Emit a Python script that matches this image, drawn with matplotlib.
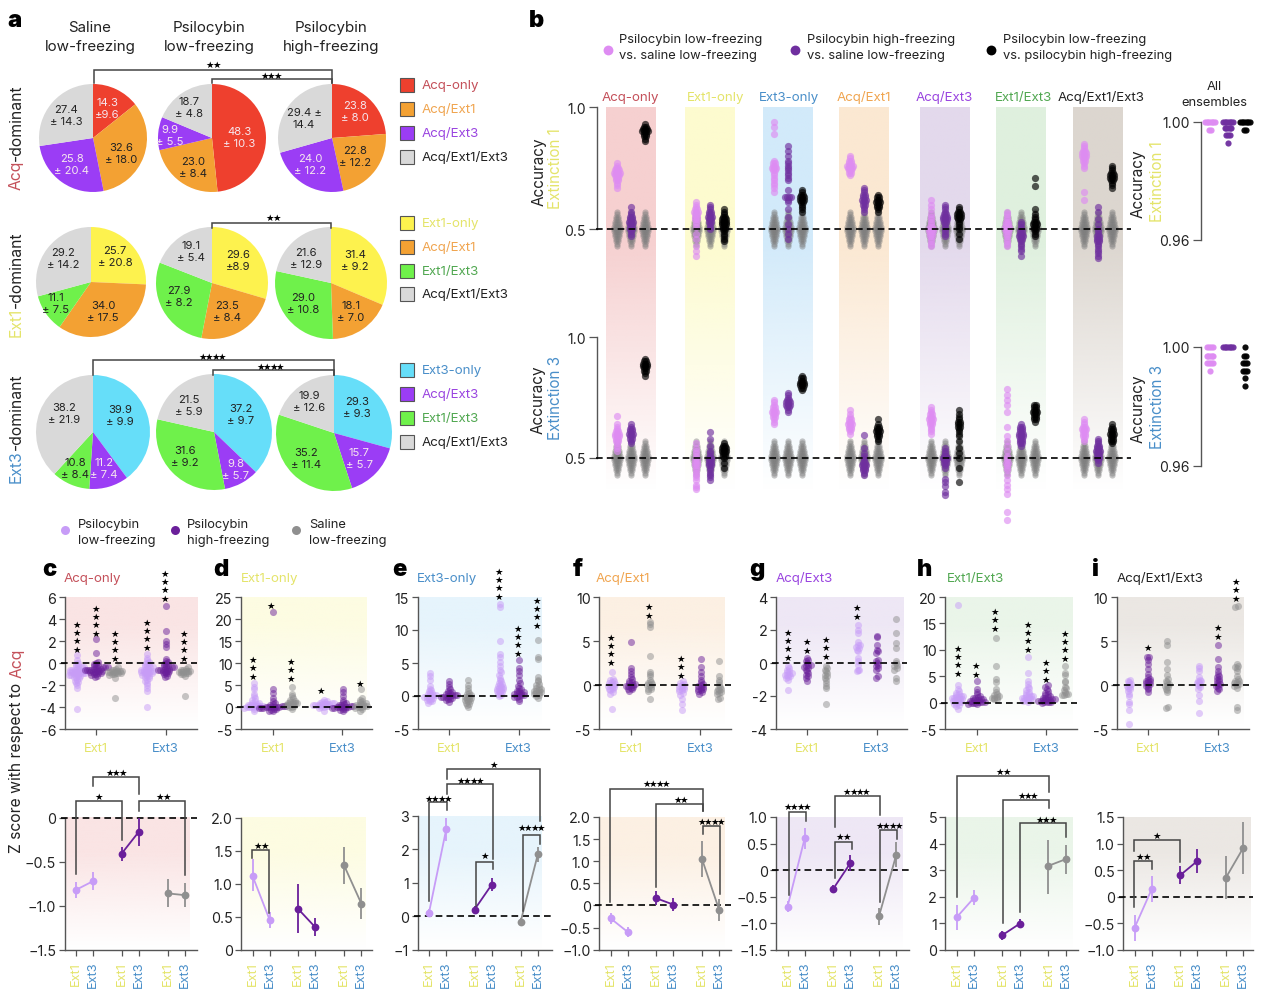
import numpy as np
import matplotlib
matplotlib.use('Agg')
import matplotlib.pyplot as plt
from matplotlib.colors import to_rgb
from matplotlib.patches import Rectangle

plt.rcParams['font.family'] = ['Inter', 'DejaVu Sans']
plt.rcParams['axes.unicode_minus'] = False

W, H = 1264, 1004

# colours
RED, ORANGE, PURPLE, LGRAY = '#ee402e', '#f3a133', '#9b3df5', '#d9d9d9'
YELLOW, GREEN, CYAN = '#fdf24e', '#6ff14b', '#66def9'
T_ACQ, T_EXT1, T_EXT3 = '#c4505a', '#e4e46a', '#4a8fc9'
T_AE1, T_AE3, T_E1E3 = '#f0a550', '#9a45e0', '#52a852'
T_ALL = '#222222'
C_LOW, C_HIGH, C_SAL = '#c79cf7', '#6a1f9a', '#8f8f8f'
B_LOW, B_HIGH, B_BLK = '#de8cf2', '#6f2f9f', '#000000'

# panel a
pie_row1 = [[14.3, 32.6, 25.8, 27.4], [48.3, 23.0, 9.9, 18.7], [23.8, 22.8, 24.0, 29.4]]
pie_row2 = [[25.7, 34.0, 11.1, 29.2], [29.6, 23.5, 27.9, 19.1], [31.4, 18.1, 29.0, 21.6]]
pie_row3 = [[39.9, 11.2, 10.8, 38.2], [37.2, 9.8, 31.6, 21.5], [29.3, 15.7, 35.2, 19.9]]
lab_row1 = [['14.3\n±9.6', '32.6\n± 18.0', '25.8\n± 20.4', '27.4\n± 14.3'],
            ['48.3\n± 10.3', '23.0\n± 8.4', '9.9\n± 5.5', '18.7\n± 4.8'],
            ['23.8\n± 8.0', '22.8\n± 12.2', '24.0\n± 12.2', '29.4 ±\n14.4']]
lab_row2 = [['25.7\n± 20.8', '34.0\n± 17.5', '11.1\n± 7.5', '29.2\n± 14.2'],
            ['29.6\n±8.9', '23.5\n± 8.4', '27.9\n± 8.2', '19.1\n± 5.4'],
            ['31.4\n± 9.2', '18.1\n± 7.0', '29.0\n± 10.8', '21.6\n± 12.9']]
lab_row3 = [['39.9\n± 9.9', '11.2\n± 7.4', '10.8\n± 8.4', '38.2\n± 21.9'],
            ['37.2\n± 9.7', '9.8\n± 5.7', '31.6\n± 9.2', '21.5\n± 5.9'],
            ['29.3\n± 9.3', '15.7\n± 5.7', '35.2\n± 11.4', '19.9\n± 12.6']]
legend_a1 = ['Acq-only', 'Acq/Ext1', 'Acq/Ext3', 'Acq/Ext1/Ext3']
legend_a2 = ['Ext1-only', 'Acq/Ext1', 'Ext1/Ext3', 'Acq/Ext1/Ext3']
legend_a3 = ['Ext3-only', 'Acq/Ext3', 'Ext1/Ext3', 'Acq/Ext1/Ext3']

# panel b, one cloud per ensemble type
ensembles = ['Acq-only', 'Ext1-only', 'Ext3-only', 'Acq/Ext1', 'Acq/Ext3', 'Ext1/Ext3', 'Acq/Ext1/Ext3']
shuffle_cloud = [.43, .44, .45, .45, .46, .46, .47, .47, .47, .48, .48, .48, .49, .49, .49, .49, .50, .50, .50, .50,
                 .51, .51, .51, .51, .52, .52, .52, .53, .53, .53, .54, .54, .55, .55, .56, .57]
e1_low = [
    [.67, .68, .69, .70, .70, .71, .71, .72, .72, .72, .73, .73, .73, .73, .74, .74, .74, .75, .75, .76, .77],
    [.39, .41, .43, .46, .48, .51, .52, .53, .54, .54, .55, .55, .56, .56, .57, .57, .57, .58, .58, .59, .60, .61],
    [.94, .92, .89, .65, .67, .68, .69, .70, .71, .72, .73, .74, .74, .75, .75, .75, .76, .76, .77, .77, .78],
    [.72, .73, .73, .74, .74, .75, .75, .75, .76, .76, .76, .76, .77, .77, .78, .78, .79, .80],
    [.43, .44, .45, .46, .47, .47, .48, .48, .49, .49, .49, .50, .50, .50, .51, .51, .52, .53, .54, .55, .56, .58, .60, .62],
    [.43, .44, .45, .46, .47, .48, .48, .49, .49, .50, .50, .50, .51, .51, .51, .52, .52, .53, .53, .54, .55, .56, .57],
    [.62, .65, .75, .76, .77, .78, .78, .79, .79, .80, .80, .80, .81, .81, .81, .82, .82, .83, .84, .85],
]
e1_high = [
    [.47, .48, .49, .50, .50, .51, .51, .52, .52, .53, .53, .53, .54, .54, .55, .55, .56, .57, .59],
    [.50, .51, .52, .53, .53, .54, .54, .55, .55, .55, .56, .56, .57, .57, .58, .59, .60],
    [.46, .48, .50, .52, .55, .58, .61, .62, .63, .63, .63, .63, .66, .70, .71, .72, .73, .74, .75, .76, .77, .78, .80, .82, .84],
    [.57, .58, .59, .60, .60, .61, .61, .62, .62, .62, .63, .63, .64, .64, .65, .66, .67],
    [.47, .48, .49, .50, .51, .52, .53, .53, .54, .54, .54, .55, .55, .55, .56, .56, .57, .58, .59, .60],
    [.39, .41, .42, .43, .44, .45, .46, .46, .47, .47, .47, .48, .48, .49, .49, .50, .51, .52, .53],
    [.38, .39, .40, .41, .42, .43, .44, .45, .45, .46, .46, .47, .47, .48, .49, .50, .52, .54, .57, .59],
]
e1_black = [
    [.86, .87, .88, .88, .89, .89, .90, .90, .90, .90, .91, .91, .91, .92, .92, .93],
    [.45, .46, .47, .48, .49, .50, .50, .51, .51, .52, .52, .52, .53, .53, .53, .54, .54, .54, .55, .55, .56, .57, .58],
    [.57, .58, .59, .60, .61, .61, .62, .62, .62, .63, .63, .63, .64, .64, .65, .66],
    [.57, .58, .59, .59, .60, .60, .61, .61, .61, .62, .62, .63, .63, .64],
    [.46, .48, .50, .51, .52, .53, .54, .54, .55, .55, .55, .56, .56, .56, .57, .57, .58, .59],
    [.47, .48, .49, .50, .50, .51, .51, .52, .52, .52, .53, .53, .54, .55, .56, .58, .675, .71],
    [.67, .68, .69, .70, .70, .71, .71, .71, .72, .72, .72, .73, .73, .74, .75, .76],
]
e3_low = [
    [.53, .54, .55, .56, .57, .57, .58, .58, .59, .59, .59, .60, .60, .60, .61, .61, .62, .63, .64, .675],
    [.37, .38, .39, .41, .42, .43, .44, .45, .46, .47, .47, .48, .48, .49, .49, .50, .51, .52, .53, .54, .56],
    [.64, .65, .66, .67, .67, .68, .68, .69, .69, .69, .70, .70, .71, .71, .72, .73, .74],
    [.60, .61, .62, .62, .63, .63, .64, .64, .64, .65, .65, .66, .66, .67, .68, .70],
    [.60, .61, .62, .63, .64, .64, .65, .65, .66, .66, .66, .67, .67, .68, .68, .69, .70, .71],
    [.245, .278, .35, .37, .39, .41, .43, .45, .46, .47, .48, .48, .49, .50, .51, .53, .55, .57, .59, .627, .69, .72, .74, .76, .785],
    [.57, .58, .59, .59, .60, .60, .61, .61, .62, .62, .62, .63, .63, .64, .65, .66],
]
e3_high = [
    [.56, .57, .58, .58, .59, .59, .60, .60, .60, .61, .61, .62, .62, .63, .64],
    [.41, .42, .43, .44, .45, .46, .47, .47, .48, .48, .49, .49, .50, .50, .51, .52, .53, .55, .58, .607],
    [.69, .70, .71, .71, .72, .72, .72, .73, .73, .73, .74, .74, .75, .76, .77],
    [.43, .44, .45, .45, .46, .46, .47, .47, .47, .48, .48, .49, .50, .51, .52, .54, .593],
    [.347, .36, .385, .40, .415, .46, .47, .48, .48, .49, .49, .50, .50, .50, .51, .51, .52, .53, .54],
    [.55, .56, .56, .57, .57, .58, .58, .59, .59, .59, .60, .60, .60, .61, .61, .62, .62, .63, .63, .64],
    [.48, .49, .50, .50, .51, .51, .52, .52, .53, .53, .53, .54, .54, .55, .55, .56, .57, .58],
]
e3_black = [
    [.84, .85, .86, .86, .87, .87, .88, .88, .88, .89, .89, .89, .90, .90, .91],
    [.46, .48, .50, .51, .51, .52, .52, .53, .53, .53, .54, .54, .54, .55, .55, .56],
    [.78, .79, .79, .80, .80, .80, .81, .81, .81, .82, .82, .83, .83, .84],
    [.57, .58, .59, .59, .60, .60, .61, .61, .61, .62, .62, .63, .63, .64, .66],
    [.40, .46, .50, .52, .54, .57, .59, .60, .61, .62, .63, .63, .64, .64, .65, .65, .66, .67, .68, .70],
    [.65, .66, .66, .67, .67, .68, .68, .69, .69, .69, .70, .70, .71, .71, .72, .72],
    [.56, .57, .57, .58, .58, .59, .59, .60, .60, .60, .61, .61, .62, .62, .63, .64],
]
# all ensembles, accuracy is quantised
all_e1_low = [1.0, 1.0, 1.0, 1.0, 1.0, 1.0, 1.0, 0.9974, 0.9974]
all_e1_high = [1.0, 1.0, 1.0, 1.0, 1.0, 1.0, 1.0, 0.998, 0.998, 0.998, 0.998, 0.998, 0.9955, 0.9955, 0.9955, 0.993]
all_e1_black = [1.0, 1.0, 1.0, 1.0, 1.0, 1.0, 1.0, 0.9974, 0.9974]
all_e3_low = [1.0, 1.0, 1.0, 1.0, 0.997, 0.997, 0.997, 0.997, 0.997, 0.9945, 0.9945, 0.9945, 0.9945, 0.992]
all_e3_high = [1.0, 1.0, 1.0, 1.0, 1.0, 1.0, 1.0]
all_e3_black = [1.0, 0.997, 0.997, 0.9945, 0.9945, 0.9945, 0.992, 0.992, 0.992, 0.9895, 0.987]

# panels c-i, top row: low, high, saline at Ext1 then at Ext3
top_c = [
    [-4.2, -2.3, -2.0, -1.8, -1.7, -1.6, -1.5, -1.4, -1.3, -1.3, -1.2, -1.2, -1.1, -1.1, -1.0, -1.0, -1.0, -0.9, -0.9, -0.9, -0.8, -0.8, -0.8, -0.8, -0.7, -0.7, -0.7, -0.6, -0.6, -0.6, -0.5, -0.5, -0.4, -0.4, -0.3, -0.2, -0.1, 0.0, 0.3, 0.7],
    [-1.3, -1.2, -1.1, -1.0, -1.0, -0.9, -0.9, -0.8, -0.8, -0.8, -0.7, -0.7, -0.7, -0.6, -0.6, -0.6, -0.6, -0.5, -0.5, -0.5, -0.5, -0.4, -0.4, -0.4, -0.3, -0.3, -0.2, -0.1, 0.0, 0.1, 0.9, 2.2],
    [-3.2, -1.4, -1.1, -1.0, -1.0, -0.9, -0.9, -0.9, -0.8, -0.8, -0.8, -0.8, -0.7, -0.7, -0.7, -0.6, -0.6, -0.5, -0.4],
    [-4.0, -2.5, -2.3, -2.0, -1.8, -1.6, -1.5, -1.4, -1.3, -1.2, -1.2, -1.1, -1.0, -1.0, -0.9, -0.9, -0.8, -0.8, -0.8, -0.7, -0.7, -0.7, -0.6, -0.6, -0.5, -0.5, -0.4, -0.4, -0.3, -0.3, -0.2, -0.1, 0, 0.1, 0.3, 0.5, 0.8],
    [-1.3, -1.2, -1.0, -0.9, -0.9, -0.8, -0.8, -0.7, -0.7, -0.6, -0.6, -0.6, -0.5, -0.5, -0.5, -0.4, -0.4, -0.3, -0.3, -0.2, -0.1, 0, 0.1, 0.2, 0.4, 1.5, 1.7, 2.0, 2.9, 5.2],
    [-3.0, -1.2, -1.0, -1.0, -0.9, -0.9, -0.8, -0.8, -0.8, -0.7, -0.7, -0.7, -0.6, -0.6, -0.5, -0.4],
]
top_d = [
    [-1.0, -0.5, -0.3, -0.1, 0, 0.1, 0.1, 0.2, 0.2, 0.3, 0.3, 0.4, 0.4, 0.5, 0.5, 0.6, 0.8, 1.0, 1.3, 1.7, 2.1, 2.6, 3.0, 4.0, 4.6, 5.4],
    [-1.0, -0.8, -0.6, -0.5, -0.4, -0.3, -0.2, -0.2, -0.1, -0.1, 0, 0, 0, 0.1, 0.1, 0.2, 0.2, 0.3, 0.4, 0.6, 0.9, 1.3, 2.0, 3.2, 4.0, 21.7],
    [-0.4, 0, 0.1, 0.3, 0.4, 0.5, 0.6, 0.7, 0.8, 0.9, 1.0, 1.1, 1.2, 1.4, 1.6, 2.0, 2.5, 3.0, 4.5],
    [-0.8, -0.3, 0, 0.1, 0.2, 0.3, 0.4, 0.4, 0.5, 0.5, 0.6, 0.6, 0.7, 0.7, 0.8, 0.9, 1.0, 1.1, 1.2, 1.4, 1.7],
    [-1.0, -0.7, -0.5, -0.4, -0.3, -0.2, -0.1, -0.1, 0, 0, 0.1, 0.1, 0.2, 0.3, 0.4, 0.5, 0.7, 0.9, 1.2, 1.6, 2.5, 3.3, 4.0],
    [-0.8, -0.4, -0.2, 0, 0, 0.1, 0.2, 0.3, 0.4, 0.5, 0.6, 0.7, 0.9, 1.1, 1.3, 1.6, 2.0, 4.0],
]
top_e = [
    [-1.0, -0.8, -0.7, -0.6, -0.5, -0.4, -0.3, -0.2, -0.1, 0, 0, 0.1, 0.2, 0.3, 0.4, 0.5, 0.7, 0.9, 1.1, 1.5, 2.4, 3.0, 3.5],
    [-0.9, -0.6, -0.5, -0.4, -0.3, -0.2, -0.1, -0.1, 0, 0, 0.1, 0.1, 0.2, 0.3, 0.4, 0.5, 0.6, 0.8, 1.0, 1.4, 1.8, 2.2],
    [-1.6, -1.4, -1.2, -1.0, -0.8, -0.7, -0.6, -0.5, -0.4, -0.3, -0.2, -0.1, 0, 0.1, 0.3, 0.5, 0.8, 1.2, 1.6, 2.4],
    [0, 0.2, 0.3, 0.5, 0.6, 0.7, 0.8, 0.9, 1.0, 1.1, 1.2, 1.3, 1.4, 1.5, 1.6, 1.8, 2.0, 2.2, 2.5, 2.8, 3.2, 3.6, 4.0, 4.5, 5.2, 5.9, 6.4, 8.3, 13.5, 14],
    [-0.8, -0.4, -0.2, -0.1, 0, 0.1, 0.2, 0.3, 0.4, 0.5, 0.5, 0.6, 0.7, 0.8, 1.0, 1.2, 1.5, 1.9, 2.5, 3.2, 3.8, 4.3, 5.4],
    [-0.3, 0, 0.2, 0.3, 0.4, 0.5, 0.6, 0.7, 0.8, 0.9, 1.0, 1.2, 1.4, 1.6, 1.8, 2.2, 2.5, 2.9, 5.6, 5.9, 8.5],
]
top_f = [
    [-2.7, -1.0, -0.8, -0.6, -0.5, -0.4, -0.3, -0.2, -0.1, 0, 0, 0.1, 0.2, 0.3, 0.4, 0.6, 0.7, 1.5],
    [-0.7, -0.5, -0.4, -0.3, -0.2, -0.1, -0.1, 0, 0, 0.1, 0.2, 0.3, 0.5, 0.7, 0.9, 1.2, 1.6, 1.9, 4.9],
    [-1.6, -0.7, -0.5, -0.4, -0.2, 0, 0, 0.1, 0.2, 0.3, 0.6, 1.0, 1.3, 1.5, 3.3, 6.6, 6.9, 7.2],
    [-2.8, -2.2, -1.6, -1.1, -0.9, -0.7, -0.6, -0.5, -0.4, -0.3, -0.2, -0.1, 0, 0.1, 0.2, 0.4],
    [-1.0, -0.8, -0.7, -0.6, -0.5, -0.4, -0.3, -0.2, -0.1, 0, 0.1, 0.3, 0.6, 1.0, 1.5, 2.0, 2.9],
    [-1.6, -1.5, -1.0, -0.9, -0.8, -0.7, -0.6, -0.5, -0.4, -0.2, 0, 0.3, 0.6, 1.0, 2.7],
]
top_g = [
    [-1.65, -1.0, -0.9, -0.85, -0.8, -0.75, -0.7, -0.65, -0.6, -0.55, -0.5, -0.4, -0.3, -0.2],
    [-1.1, -0.9, -0.8, -0.7, -0.6, -0.5, -0.4, -0.3, -0.25, -0.2, -0.15, -0.1, 0, 0.1, 0.2, 0.3],
    [-2.5, -1.5, -1.4, -1.2, -1.0, -0.9, -0.8, -0.7, -0.6, -0.5, -0.4, -0.3, -0.2],
    [-0.5, -0.45, -0.4, -0.1, 0.1, 0.3, 0.7, 0.8, 0.9, 1.0, 1.1, 1.1, 1.3, 1.8, 2.0, 2.3],
    [-0.9, -0.8, -0.4, -0.3, -0.2, -0.1, 0, 0.1, 0.2, 0.6, 0.7, 0.8, 1.1, 1.6, 1.65],
    [-1.1, -0.9, -0.4, -0.3, -0.2, -0.1, 0, 0.1, 0.9, 1.2, 1.8, 2.65],
]
top_h = [
    [-1.2, -0.7, -0.4, -0.2, 0, 0.1, 0.2, 0.3, 0.4, 0.5, 0.6, 0.7, 0.8, 0.9, 1.0, 1.1, 1.2, 1.3, 1.5, 1.7, 1.9, 2.2, 2.6, 3.3, 18.4],
    [-0.3, -0.2, -0.1, 0, 0, 0.1, 0.1, 0.2, 0.2, 0.3, 0.3, 0.4, 0.4, 0.5, 0.6, 0.7, 0.8, 0.9, 1.1, 1.3, 1.6, 2.0, 2.5, 4.0],
    [0.6, 0.7, 0.8, 0.9, 1.0, 1.2, 1.4, 1.7, 2.0, 2.5, 3.9, 4.5, 6.9, 12.2],
    [0.2, 0.3, 0.4, 0.5, 0.6, 0.7, 0.8, 0.9, 1.0, 1.1, 1.2, 1.3, 1.5, 1.7, 1.9, 2.1, 2.4, 2.7, 3.0, 3.5, 4.0, 5.6, 8.7],
    [0, 0.1, 0.1, 0.2, 0.2, 0.3, 0.3, 0.4, 0.4, 0.5, 0.5, 0.6, 0.7, 0.8, 0.9, 1.0, 1.2, 1.4, 1.6, 1.9, 2.2, 2.6, 3.0, 3.4],
    [1.4, 1.5, 1.6, 1.7, 2.0, 2.4, 2.8, 3.0, 3.9, 4.0, 5.3, 5.6, 6.9],
]
top_i = [
    [-4.4, -2.8, -2.2, -1.9, -1.2, -1.0, -0.7, -0.5, -0.3, -0.2, -0.1, 0, 0.1, 0.3, 0.5, 0.6],
    [-0.8, -0.5, -0.3, -0.1, 0, 0.1, 0.2, 0.3, 0.4, 0.5, 0.6, 0.7, 0.9, 1.2, 1.8, 2.4, 2.8, 3.2, 3.2],
    [-2.6, -2.5, -0.8, -0.6, -0.4, -0.2, -0.1, 0, 0.1, 0.3, 0.5, 0.7, 1.1, 1.8, 2.6, 4.6, 5.0],
    [-3.2, -1.8, -1.1, -0.4, -0.2, 0, 0.1, 0.2, 0.3, 0.4, 0.5, 0.6, 0.9, 1.6, 1.9, 2.2],
    [-0.7, -0.5, -0.3, -0.1, 0, 0.1, 0.2, 0.4, 0.6, 0.7, 0.9, 1.0, 1.2, 1.6, 2.1, 2.9, 4.6],
    [-2.8, -2.5, -0.3, -0.1, 0, 0.1, 0.2, 0.3, 0.4, 0.5, 0.7, 1.0, 1.6, 1.9, 2.1, 2.2, 2.4, 8.9, 9.0],
]

# panels c-i, bottom row: mean, lower, upper for low/high/saline, Ext1 then Ext3
mean_c = [-0.82, -0.72, -0.41, -0.16, -0.86, -0.88]
low_c = [-0.91, -0.82, -0.49, -0.32, -1.02, -1.02]
up_c = [-0.73, -0.62, -0.33, 0.0, -0.70, -0.74]
mean_d = [1.12, 0.45, 0.62, 0.34, 1.28, 0.70]
low_d = [0.89, 0.33, 0.26, 0.21, 1.0, 0.47]
up_d = [1.37, 0.57, 0.99, 0.48, 1.56, 0.93]
mean_e = [0.11, 2.6, 0.2, 0.95, -0.18, 1.85]
low_e = [0.01, 2.25, 0.1, 0.75, -0.30, 1.63]
up_e = [0.21, 2.95, 0.3, 1.15, -0.06, 2.07]
mean_f = [-0.29, -0.60, 0.165, 0.02, 1.05, -0.11]
low_f = [-0.41, -0.72, -0.0, -0.13, 0.64, -0.36]
up_f = [-0.17, -0.48, 0.33, 0.17, 1.46, 0.14]
mean_g = [-0.69, 0.60, -0.36, 0.13, -0.87, 0.29]
low_g = [-0.79, 0.40, -0.44, -0.02, -1.03, 0.05]
up_g = [-0.59, 0.80, -0.28, 0.28, -0.71, 0.53]
mean_h = [1.23, 1.96, 0.55, 0.98, 3.16, 3.41]
low_h = [0.75, 1.7, 0.37, 0.8, 2.1, 2.85]
up_h = [1.7, 2.25, 0.7, 1.15, 4.15, 3.95]
mean_i = [-0.59, 0.14, 0.40, 0.67, 0.36, 0.92]
low_i = [-0.83, -0.10, 0.23, 0.44, -0.05, 0.43]
up_i = [-0.35, 0.38, 0.57, 0.89, 0.76, 1.40]

fig = plt.figure(figsize=(W / 100, H / 100), dpi=100, facecolor='white')


def ax_px(l, t, r, b, z=5):
    ax = fig.add_axes([l / W, 1 - b / H, (r - l) / W, (b - t) / H], zorder=z)
    ax.patch.set_alpha(0)
    return ax


bg = ax_px(0, 0, W, H, z=0)
ov = ax_px(0, 0, W, H, z=20)
for a in (bg, ov):
    a.axis('off')


def shade(l, t, r, b, color, hold=0.3):
    # colour band that fades to white
    n = 200
    img = np.ones((n, 1, 4))
    img[:, 0, :3] = to_rgb(color)
    f = np.linspace(0, 1, n)
    img[:, 0, 3] = np.clip((1 - f) / (1 - hold), 0, 1)
    bg.imshow(img, extent=(l, r, b, t), aspect='auto', zorder=1, interpolation='bilinear')


def txt(x, y, s, size=10, color='#222222', **kw):
    kw.setdefault('ha', 'center')
    kw.setdefault('va', 'center')
    return ov.text(x, y, s, fontsize=size, color=color, **kw)


def star_h(x, y, n, gap=6.3):
    for i in range(n):
        ov.text(x + (i - (n - 1) / 2) * gap, y, '★', fontsize=6.8, family='DejaVu Sans',
                color='black', ha='center', va='center')


def star_v(x, y_low, n, gap=8.2):
    for i in range(n):
        ov.text(x, y_low - i * gap, '★', fontsize=6.8, family='DejaVu Sans',
                color='black', ha='center', va='center')


def bracket(x1, yb1, x2, yb2, yt, color='#444444', lw=1.1):
    ov.plot([x1, x1, x2, x2], [yb1, yt, yt, yb2], color=color, lw=lw, solid_joinstyle='miter')


def rot_two(x, y_bottom, first, c1, second, c2, size):
    # two coloured strings reading upwards
    r = fig.canvas.get_renderer()
    t1 = txt(x, y_bottom, first, size, c1, rotation=90, va='bottom')
    h = t1.get_window_extent(r).height
    txt(x, y_bottom - h, second, size, c2, rotation=90, va='bottom')


def swarm(vals, step, dx):
    vals = np.asarray(vals, dtype=float)
    bins = np.round(vals / step)
    off = np.zeros(len(vals))
    for b in np.unique(bins):
        idx = np.where(bins == b)[0]
        off[idx] = (np.arange(len(idx)) - (len(idx) - 1) / 2) * dx
    return off


def style_axis(ax, size=10.3):
    ax.spines[['top', 'right']].set_visible(False)
    ax.spines[['left', 'bottom']].set_color('#555555')
    ax.spines[['left', 'bottom']].set_linewidth(1.0)
    ax.tick_params(length=4, width=0.9, color='#555555', labelsize=size, labelcolor='#222222', pad=2)


# ---------- panel a ----------
txt(14, 21, 'a', 17, 'black', fontweight='black')
for x, a1, a2 in [(90, 'Saline', 'low-freezing'), (209, 'Psilocybin', 'low-freezing'), (331, 'Psilocybin', 'high-freezing')]:
    txt(x, 28, a1, 10.9)
    txt(x, 47, a2, 10.9)

pie_sets = [
    (pie_row1, lab_row1, [RED, ORANGE, PURPLE, LGRAY], [(93, 139, 54), (212, 139, 54), (332, 139, 54)],
     [[(107, 109), (121, 154), (72, 165), (66, 116)], [(239, 138), (193, 168), (170, 136), (189, 108)], [(355, 112), (355, 157), (310, 165), (304, 119)]],
     [0, 2]),
    (pie_row2, lab_row2, [YELLOW, ORANGE, GREEN, LGRAY], [(91, 283, 55), (212, 284, 56), (331, 284, 56)],
     [[(115, 257), (103, 312), (56, 304), (63, 259)], [(238, 261), (227, 312), (179, 297), (191, 252)], [(355, 261), (351, 312), (303, 304), (306, 259)]],
     []),
    (pie_row3, lab_row3, [CYAN, PURPLE, GREEN, LGRAY], [(93, 433, 57), (214, 433, 58), (334, 434, 58)],
     [[(120, 416), (104, 469), (75, 469), (64, 414)], [(241, 415), (236, 470), (185, 457), (189, 406)], [(357, 408), (359, 459), (306, 459), (309, 402)]],
     [1]),
]
for vals, labs, cols, centres, lab_xy, light in pie_sets:
    for v, l, (cx, cy, rad), xy in zip(vals, labs, centres, lab_xy):
        p = ax_px(cx - rad, cy - rad, cx + rad, cy + rad)
        p.pie(v, colors=cols, startangle=90, counterclock=False, radius=1)
        p.set_xlim(-1, 1)
        p.set_ylim(-1, 1)
        for i, s in enumerate(l):
            c = '#f6e6ee' if i in light else '#222222'
            txt(xy[i][0], xy[i][1], s, 8.1, c, linespacing=1.2)

leg_rows = [
    (legend_a1, [RED, ORANGE, PURPLE, LGRAY], [T_ACQ, T_AE1, T_AE3, T_ALL], [86, 110, 134, 158]),
    (legend_a2, [YELLOW, ORANGE, GREEN, LGRAY], [T_EXT1, T_AE1, T_E1E3, T_ALL], [224, 248, 272, 295]),
    (legend_a3, [CYAN, PURPLE, GREEN, LGRAY], [T_EXT3, T_AE3, T_E1E3, T_ALL], [371, 395, 419, 443]),
]
for names, fills, tcols, ys in leg_rows:
    for n, f, c, y in zip(names, fills, tcols, ys):
        ov.add_patch(Rectangle((400, y - 7), 14, 14, fc=f, ec='#555555', lw=0.8))
        txt(422, y, n, 9.6, c, ha='left')

rot_two(16, 190, 'Acq', T_ACQ, '-dominant', '#222222', 11.3)
rot_two(16, 337, 'Ext1', T_EXT1, '-dominant', '#222222', 11.3)
rot_two(16, 483, 'Ext3', T_EXT3, '-dominant', '#222222', 11.3)

bracket(94, 84, 332, 84, 71)
bracket(212, 84, 332, 84, 80)
star_h(213, 65, 2)
star_h(271, 76, 3)
bracket(212, 229, 331, 229, 224)
star_h(273, 218, 2)
bracket(93, 376, 334, 376, 361)
bracket(213, 376, 334, 376, 371)
star_h(212, 357, 4)
star_h(270, 367, 4)

for mx, tx, l1, l2, mc in [(65, 78, 'Psilocybin', 'low-freezing', C_LOW), (175, 187, 'Psilocybin', 'high-freezing', C_HIGH), (296, 309, 'Saline', 'low-freezing', C_SAL)]:
    ov.scatter([mx], [531], s=42, color=mc, lw=0)
    txt(tx, 525, l1, 9.3, ha='left')
    txt(tx, 541, l2, 9.3, ha='left')

# ---------- panel b ----------
txt(536, 21, 'b', 17, 'black', fontweight='black')
for mx, tx, l1, l2, mc in [(608, 619, 'Psilocybin low-freezing', 'vs. saline low-freezing', B_LOW),
                           (795, 807, 'Psilocybin high-freezing', 'vs. saline low-freezing', B_HIGH),
                           (991, 1003, 'Psilocybin low-freezing', 'vs. psilocybin high-freezing', B_BLK)]:
    ov.scatter([mx], [51], s=50, color=mc, lw=0)
    txt(tx, 40, l1, 9.3, ha='left')
    txt(tx, 56, l2, 9.3, ha='left')

band_x = [631, 710, 788, 864, 945, 1021, 1098]
band_col = ['#f6d0d0', '#fdfbcf', '#d2eafa', '#fbe8d2', '#e3d9ec', '#dff0de', '#dcd6cf']
title_x = [630, 716, 789, 864, 944, 1023, 1101]
title_col = [T_ACQ, T_EXT1, T_EXT3, T_AE1, T_AE3, T_E1E3, T_ALL]
for cx, c, tx, tc, name in zip(band_x, band_col, title_x, title_col, ensembles):
    shade(cx - 25, 108, cx + 25, 492, c, hold=0.35)
    txt(tx, 98, name, 9.6, tc)

for (top, bot, low, high, blk) in [(108, 230, e1_low, e1_high, e1_black), (338, 459, e3_low, e3_high, e3_black)]:
    ax = ax_px(597, top, 1135, bot, z=6)
    ax.set_xlim(597, 1135)
    ax.set_ylim(0.5, 1.0)
    style_axis(ax, 10)
    ax.spines['bottom'].set_visible(False)
    ax.set_xticks([])
    ax.set_yticks([0.5, 1.0])
    ax.set_yticklabels(['0.5', '1.0'])
    ax.tick_params(axis='y', length=6)
    for k, cx in enumerate(band_x):
        for off in (-14, 0, 14):
            ax.scatter(cx + off + swarm(shuffle_cloud, .01, 2.0), shuffle_cloud, s=20, color='#7e7e7e',
                       alpha=0.45, lw=0, clip_on=False, zorder=2)
        for off, cloud, col, al in [(-14, low[k], B_LOW, 0.65), (0, high[k], B_HIGH, 0.65), (14, blk[k], B_BLK, 0.65)]:
            ax.scatter(cx + off + swarm(cloud, .01, 2.3), cloud, s=27, color=col, alpha=al, lw=0,
                       clip_on=False, zorder=3)
    ax.plot([596, 1131], [0.5, 0.5], color='black', lw=1.2, ls=(0, (4, 2.5)), clip_on=False, zorder=4)

txt(539, 172, 'Accuracy', 11, rotation=90)
txt(556, 169, 'Extinction 1', 11, T_EXT1, rotation=90)
txt(538, 400, 'Accuracy', 11, rotation=90)
txt(556, 398, 'Extinction 3', 11, T_EXT3, rotation=90)
txt(1138, 184, 'Accuracy', 11, rotation=90)
txt(1158, 182, 'Extinction 1', 11, T_EXT1, rotation=90)
txt(1138, 409, 'Accuracy', 11, rotation=90)
txt(1158, 407, 'Extinction 3', 11, T_EXT3, rotation=90)
txt(1214, 87, 'All', 9.3)
txt(1214, 103, 'ensembles', 9.3)

for (top, bot, sets) in [(123, 241, (all_e1_low, all_e1_high, all_e1_black)), (348, 467, (all_e3_low, all_e3_high, all_e3_black))]:
    ax = ax_px(1201, top, 1255, bot, z=6)
    ax.set_xlim(1201, 1255)
    ax.set_ylim(0.96, 1.0)
    style_axis(ax, 10)
    ax.spines['bottom'].set_visible(False)
    ax.set_xticks([])
    ax.set_yticks([0.96, 1.0])
    ax.set_yticklabels(['0.96', '1.00'])
    ax.tick_params(axis='y', length=6)
    for cx, v, col in zip([1210, 1228, 1245], sets, [B_LOW, B_HIGH, B_BLK]):
        ax.scatter(cx + swarm(v, .0004, 1.7), v, s=20, color=col, lw=0, alpha=0.95, clip_on=False, zorder=3)

# ---------- panels c-i ----------
letters = ['c', 'd', 'e', 'f', 'g', 'h', 'i']
letter_x = [49, 221, 399, 578, 757, 924, 1095]
p_title = ['Acq-only', 'Ext1-only', 'Ext3-only', 'Acq/Ext1', 'Acq/Ext3', 'Ext1/Ext3', 'Acq/Ext1/Ext3']
p_title_x = [92, 270, 447, 623, 804, 976, 1160]
p_title_col = [T_ACQ, T_EXT1, T_EXT3, T_AE1, T_AE3, T_E1E3, T_ALL]
p_shade = ['#fae4e4', '#fdfce2', '#e6f4fc', '#fcf0e3', '#eee7f5', '#eaf5e9', '#ebe7e3']

top_x0 = [64.5, 241, 417.5, 599, 775.6, 945, 1116.5]
top_right = [197, 372, 549, 731, 907, 1077, 1249]
top_shade_r = [197, 367, 541, 725, 903, 1073, 1243]
top_lim = [(-6, 6), (-5, 25), (-5, 15), (-5, 10), (-4, 4), (-5, 20), (-5, 10)]
top_ticks = [[-6, -4, -2, 0, 2, 4, 6], [-5, 0, 5, 10, 15, 20, 25], [-5, 0, 5, 10, 15], [-5, 0, 5, 10],
             [-4, -2, 0, 2, 4], [-5, 0, 5, 10, 15, 20], [-5, 0, 5, 10]]
top_data = [top_c, top_d, top_e, top_f, top_g, top_h, top_i]
top_cols = [12.5, 31.5, 50.5, 82.5, 101.5, 120]
top_tick = [31.5, 101]
col_swarm = [C_LOW, C_HIGH, C_SAL] * 2

for i in range(7):
    x0, xr = top_x0[i], top_right[i]
    shade(x0, 598, top_shade_r[i], 726, p_shade[i], hold=0.2)
    ax = ax_px(x0, 598, xr, 730, z=6)
    ax.set_xlim(0, xr - x0)
    ax.set_ylim(*top_lim[i])
    style_axis(ax)
    ax.set_yticks(top_ticks[i])
    ax.set_xticks(top_tick)
    ax.set_xticklabels(['Ext1', 'Ext3'], fontsize=9.3)
    ax.get_xticklabels()[0].set_color(T_EXT1)
    ax.get_xticklabels()[1].set_color(T_EXT3)
    ax.tick_params(axis='x', pad=5)
    step = (top_lim[i][1] - top_lim[i][0]) * 0.0212
    for cx, v, col in zip(top_cols, top_data[i], col_swarm):
        ax.scatter(cx + swarm(v, step, 2.3), v, s=26, color=col, alpha=0.5, lw=0, clip_on=False, zorder=3)
    ax.plot([-4, xr - x0], [0, 0], color='black', lw=1.2, ls=(0, (4, 2.5)), clip_on=False, zorder=4)
    ov.text(letter_x[i], 570, letters[i], fontsize=17, fontweight='black', color='black', ha='center', va='center')
    txt(p_title_x[i], 579, p_title[i], 9.6, p_title_col[i])

# significance on top row: x, lowest star y, number of stars
for x, y, n in [(77, 650, 4), (96, 634, 4), (115, 659, 4), (147, 648, 4), (165, 599, 4), (184, 659, 4),
                (253, 677, 3), (271, 606, 1), (291, 679, 3), (321, 691, 1), (360, 684, 1),
                (499, 597, 4), (518, 654, 4), (537, 626, 4),
                (611, 663, 4), (649, 616, 2), (680.5, 676, 3),
                (788, 658, 4), (807, 651, 2), (826, 657, 3), (857, 617, 2),
                (957.5, 674, 4), (976, 675, 2), (995, 629, 3), (1027.5, 650, 4), (1046, 680, 3), (1065, 659, 4),
                (1148, 648, 1), (1217.5, 637, 2), (1236, 599, 3)]:
    star_v(x, y, n)

bot_x0 = [64.5, 241, 417.5, 599, 776, 945.4, 1123]
bot_right = [197, 372, 552, 731, 909, 1078, 1253]
bot_shade_r = [189, 366, 541, 725, 903, 1073, 1251]
bot_top = [818.7, 818.7, 817, 818, 818, 818, 818]
bot_lim = [(-1.5, 0), (0, 2), (-1, 3), (-1, 2), (-1.5, 1), (0, 5), (-1, 1.5)]
bot_ticks = [[-1.5, -1, -0.5, 0], [0, 0.5, 1, 1.5, 2], [-1, 0, 1, 2, 3], [-1, -0.5, 0, 0.5, 1, 1.5, 2],
             [-1.5, -1, -0.5, 0, 0.5, 1], [0, 1, 2, 3, 4, 5], [-1, -0.5, 0, 0.5, 1, 1.5]]
bot_labels = [['−1.5', '−1.0', '−0.5', '0'], ['0', '0.5', '1.0', '1.5', '2.0'], ['−1', '0', '1', '2', '3'],
              ['−1.0', '−0.5', '0', '0.5', '1.0', '1.5', '2.0'], ['−1.5', '−1.0', '−0.5', '0', '0.5', '1.0'],
              ['0', '1', '2', '3', '4', '5'], ['−1.0', '−0.5', '0', '0.5', '1.0', '1.5']]
bot_mean = [mean_c, mean_d, mean_e, mean_f, mean_g, mean_h, mean_i]
bot_low = [low_c, low_d, low_e, low_f, low_g, low_h, low_i]
bot_up = [up_c, up_d, up_e, up_f, up_g, up_h, up_i]
bot_cols = [11.5, 28.7, 57, 74.3, 103, 120.3]

for i in range(7):
    x0, xr = bot_x0[i], bot_right[i]
    shade(x0, bot_top[i], bot_shade_r[i], 950, p_shade[i], hold=0.25)
    ax = ax_px(x0, bot_top[i], xr, 950.7, z=6)
    ax.set_xlim(0, xr - x0)
    ax.set_ylim(*bot_lim[i])
    style_axis(ax)
    ax.set_yticks(bot_ticks[i])
    ax.set_yticklabels(bot_labels[i])
    ax.set_xticks(bot_cols)
    ax.set_xticklabels(['Ext1', 'Ext3'] * 3, rotation=90, fontsize=9.2)
    for j, t in enumerate(ax.get_xticklabels()):
        t.set_color(T_EXT1 if j % 2 == 0 else T_EXT3)
    ax.tick_params(axis='x', pad=4)
    if bot_lim[i][0] < 0 and bot_lim[i][1] >= 0:
        ax.plot([-4, xr - x0], [0, 0], color='black', lw=1.2, ls=(0, (4, 2.5)), clip_on=False, zorder=4)
    for g, col in enumerate([C_LOW, C_HIGH, C_SAL]):
        a, b = 2 * g, 2 * g + 1
        m = np.array(bot_mean[i][a:b + 1])
        lo = np.array(bot_low[i][a:b + 1])
        hi = np.array(bot_up[i][a:b + 1])
        ax.errorbar(bot_cols[a:b + 1], m, yerr=[m - lo, hi - m], color=col, lw=1.3, elinewidth=1.3, marker='o',
                    ms=5.6, mew=0, clip_on=False, zorder=5)

# brackets on bottom row: x1, y bottom 1, x2, y bottom 2, y top, star x, star y, stars
bot_brackets = [
    (76, 875, 121.6, 841, 802, 99, 797, 1), (93, 787, 139, 795, 778, 116, 773, 3), (139, 812, 185, 876, 802, 163, 797, 2),
    (252, 859, 269, 914, 851, 261, 846, 2),
    (429, 902, 446.5, 811, 803, 438, 799, 4), (446.5, 795, 493, 860, 785, 470, 781, 4), (446.5, 780, 540, 822, 770, 493.5, 765, 1),
    (476, 907, 493, 870, 863, 484.5, 856, 1), (522.5, 912, 540, 845, 836, 531, 828, 4),
    (610, 903, 703, 812, 790, 656, 784, 4), (655.5, 888, 703, 812, 805, 680.5, 800, 2), (703, 835, 720, 895, 827, 711, 822, 4),
    (788.5, 896, 806, 822, 813, 797, 807, 4), (834.6, 828, 880, 816, 797, 856.5, 792, 4), (834.6, 879, 851.6, 850, 843, 843, 837, 2),
    (880, 903, 897, 840, 831, 889, 826, 4),
    (956.7, 898, 1049, 793, 777, 1003, 772, 2), (1003, 924, 1049, 809, 801, 1027.5, 796, 3), (1020, 913, 1066, 838, 824, 1046, 820, 3),
    (1134, 908, 1151.6, 870, 862, 1143, 857, 2), (1134, 852, 1180, 863, 841, 1157, 836, 1),
]
for x1, y1, x2, y2, yt, sx, sy, n in bot_brackets:
    bracket(x1, y1, x2, y2, yt)
    star_h(sx, sy, n)

rot_two(17, 853, 'Z score with respect to ', '#222222', 'Acq', T_ACQ, 11.3)

for a in (bg, ov):
    a.set_xlim(0, W)
    a.set_ylim(H, 0)

fig.savefig('out.png', dpi=100)
